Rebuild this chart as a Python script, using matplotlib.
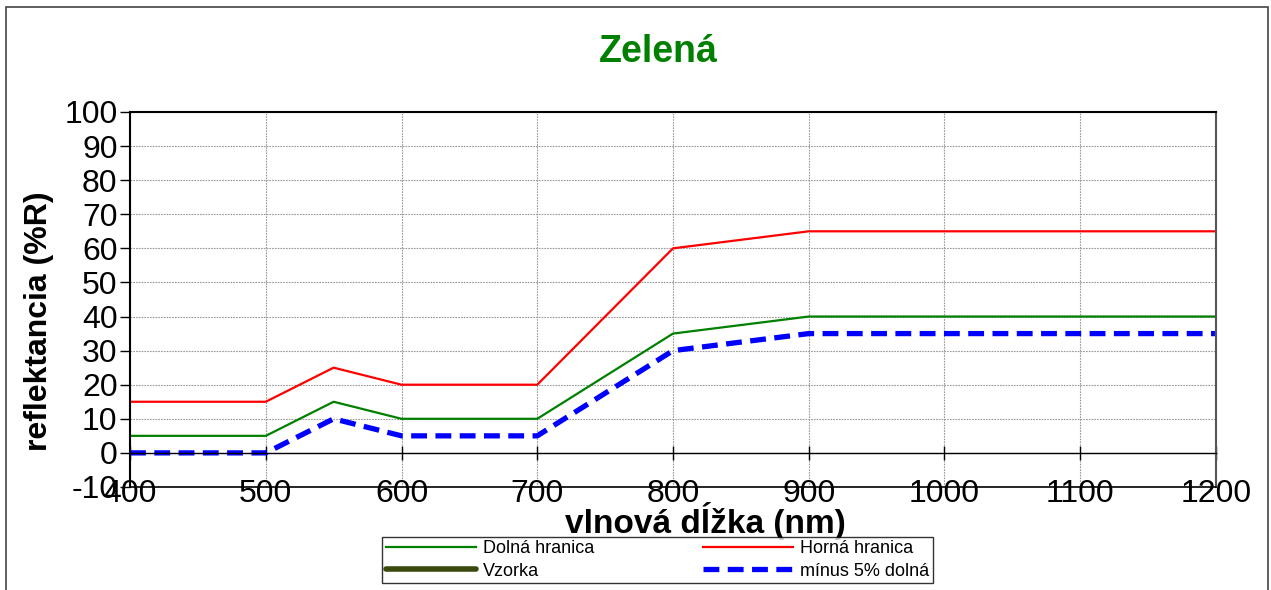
import matplotlib
matplotlib.use("Agg")
import matplotlib.pyplot as plt
from matplotlib.patches import Rectangle

plt.rcParams['font.family'] = ['Liberation Sans', 'DejaVu Sans']
plt.rcParams['axes.unicode_minus'] = False

wavelength = [400, 500, 550, 600, 700, 800, 900, 1000, 1100, 1200]
dolna = [5, 5, 15, 10, 10, 35, 40, 40, 40, 40]
horna = [15, 15, 25, 20, 20, 60, 65, 65, 65, 65]
minus5 = [0, 0, 10, 5, 5, 30, 35, 35, 35, 35]
vzorka_x = []
vzorka_y = []

title = "Zelená"
xlabel = "vlnová dĺžka (nm)"
ylabel = "reflektancia (%R)"
xticks = list(range(400, 1201, 100))
yticks = list(range(-10, 101, 10))

fig = plt.figure(figsize=(12.71, 5.90), dpi=100)
ax = fig.add_axes([0.1023, 0.1746, 0.8544, 0.6356])

# outer chart border
fig.patches.append(Rectangle((0.005, -0.05), 0.993, 1.038, transform=fig.transFigure,
                             fill=False, edgecolor='#444444', linewidth=1.2))

l1, = ax.plot(wavelength, dolna, color='#008000', lw=1.6, label='Dolná hranica')
l2, = ax.plot(wavelength, horna, color='#ff0000', lw=1.6, label='Horná hranica')
l3, = ax.plot(vzorka_x, vzorka_y, color='#3a4a0c', lw=4.0, label='Vzorka', solid_capstyle='round')
l4, = ax.plot(wavelength, minus5, color='#0000ff', lw=3.8, ls=(0, (3, 1.6)), label='mínus 5% dolná')

ax.set_xlim(400, 1200)
ax.set_ylim(-10, 100)
ax.set_xticks(xticks)
ax.set_yticks(yticks)
ax.grid(True, color='#999999', ls=(0, (1.5, 1)), lw=0.8)
ax.set_axisbelow(True)

ax.spines['bottom'].set_position(('data', 0))
ax.spines['bottom'].set_linewidth(1.0)
ax.spines['left'].set_linewidth(1.5)
ax.spines['top'].set_linewidth(1.5)
ax.spines['right'].set_color('#555555')
ax.spines['right'].set_linewidth(1.5)
ax.axhline(-10, color='black', lw=1.2, zorder=3, clip_on=False)

ax.tick_params(axis='x', direction='inout', length=10, width=1, labelsize=23, pad=14)
ax.tick_params(axis='y', direction='out', length=7, width=1, labelsize=23, pad=2)

fig.text(0.5177, 0.912, title, fontsize=27, fontweight='bold', color='#008000',
         ha='center', va='center')
fig.text(0.0307, 0.456, ylabel, fontsize=23, fontweight='bold', rotation=90,
         ha='center', va='center')
fig.text(0.5547, 0.117, xlabel, fontsize=24, fontweight='bold', ha='center', va='center')

leg = fig.legend(handles=[l1, l3, l2, l4], loc='center', bbox_to_anchor=(0.5173, 0.0508),
                 ncol=2, fontsize=13, frameon=True, fancybox=False, edgecolor='black',
                 borderpad=0.2, labelspacing=0.3, handlelength=5.0, columnspacing=6.0,
                 handletextpad=0.4, borderaxespad=0)
leg.get_frame().set_linewidth(1.0)

fig.savefig('out.png', dpi=100)
